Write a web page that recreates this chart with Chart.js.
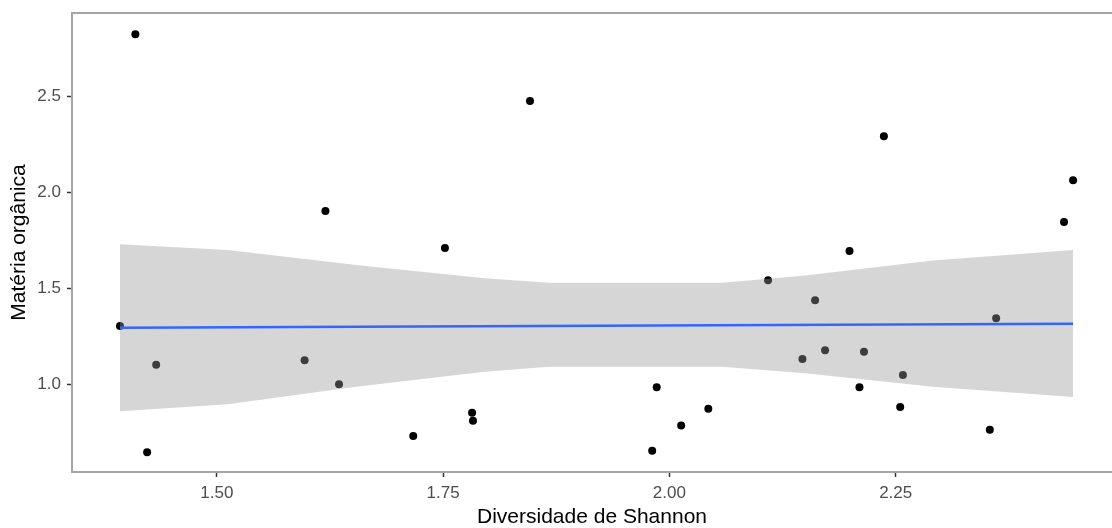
<!DOCTYPE html>
<html>
<head>
<meta charset="utf-8">
<script src="https://cdn.jsdelivr.net/npm/chart.js@4/dist/chart.umd.min.js"></script>
<style>
  body { margin: 0; background: #fff; }
  #wrap { width: 1112px; height: 528px; }
</style>
</head>
<body>
<div id="wrap"><canvas id="chart"></canvas></div>
<script>
// observed points
const diversity = [1.393, 1.410, 1.423, 1.433, 1.597, 1.620, 1.635, 1.717, 1.752, 1.782,
                   1.783, 1.846, 1.981, 1.986, 2.013, 2.043, 2.109, 2.147, 2.161, 2.172,
                   2.199, 2.210, 2.215, 2.237, 2.255, 2.258, 2.354, 2.361, 2.436, 2.446];
const organic   = [1.304, 2.826, 0.645, 1.102, 1.125, 1.904, 1.000, 0.730, 1.711, 0.851,
                   0.810, 2.478, 0.653, 0.984, 0.785, 0.872, 1.542, 1.132, 1.438, 1.177,
                   1.695, 0.984, 1.170, 2.294, 0.881, 1.048, 0.763, 1.344, 1.847, 2.064];

// fitted line (lm) and its confidence band
const fitX = [1.393, 1.920, 2.446];
const fitY = [1.295, 1.305, 1.316];
const bandX     = [1.393, 1.512, 1.654, 1.796, 1.867, 2.058, 2.150, 2.291, 2.446];
const bandUpper = [1.731, 1.700, 1.622, 1.553, 1.530, 1.530, 1.567, 1.646, 1.700];
const bandLower = [0.859, 0.895, 0.987, 1.065, 1.091, 1.091, 1.057, 0.987, 0.933];

const xTicks = [1.50, 1.75, 2.00, 2.25];
const yTicks = [1.0, 1.5, 2.0, 2.5];

const pts = (xs, ys) => xs.map((x, i) => ({ x: x, y: ys[i] }));

// grey frame line along the top of the panel
const topLine = {
    id: 'topLine',
    afterDraw(chart) {
        const c = chart.ctx, a = chart.chartArea;
        c.save();
        c.strokeStyle = '#a6a6a6';
        c.lineWidth = 2;
        c.beginPath();
        c.moveTo(a.left, a.top);
        c.lineTo(chart.width, a.top);
        c.stroke();
        c.restore();
    }
};

const noPad = s => {
    s.paddingTop = 0; s.paddingBottom = 0;
    s.paddingLeft = 0; s.paddingRight = 0;
};

const ctx = document.getElementById('chart').getContext('2d');
const chart = new Chart(ctx, {
    type: 'scatter',
    data: {
        datasets: [
            {
                label: 'fit',
                type: 'line',
                data: pts(fitX, fitY),
                borderColor: '#3366FF',
                borderWidth: 2.5,
                pointRadius: 0,
                fill: false,
                order: 0,
            },
            {
                label: 'upper',
                type: 'line',
                data: pts(bandX, bandUpper),
                borderWidth: 0,
                pointRadius: 0,
                backgroundColor: 'rgba(153,153,153,0.4)',
                fill: '+1',
                order: 1,
            },
            {
                label: 'lower',
                type: 'line',
                data: pts(bandX, bandLower),
                borderWidth: 0,
                pointRadius: 0,
                fill: false,
                order: 1,
            },
            {
                label: 'points',
                data: pts(diversity, organic),
                backgroundColor: '#000000',
                borderWidth: 0,
                pointRadius: 4,
                order: 2,
            },
        ]
    },
    options: {
        responsive: true,
        maintainAspectRatio: false,
        animation: false,
        layout: { autoPadding: false, padding: { top: 13, left: 0, right: 0, bottom: 0 } },
        plugins: {
            legend: { display: false },
            tooltip: { enabled: false },
        },
        scales: {
            x: {
                type: 'linear',
                min: 1.340,
                max: 2.489,
                afterBuildTicks: s => { s.ticks = xTicks.map(v => ({ value: v })); },
                afterFit: s => { s.height = 56; noPad(s); },
                ticks: {
                    color: '#4d4d4d',
                    font: { family: 'Liberation Sans', size: 17 },
                    padding: 6,
                    callback: v => v.toFixed(2),
                },
                grid: { drawOnChartArea: false, tickLength: 5, tickColor: '#333333', tickWidth: 1.5 },
                border: { display: true, color: '#a6a6a6', width: 2 },
                title: {
                    display: true,
                    text: 'Diversidade de Shannon',
                    color: '#000000',
                    font: { family: 'Liberation Sans', size: 21, lineHeight: 1 },
                    padding: { top: 0, bottom: 0 },
                }
            },
            y: {
                type: 'linear',
                min: 0.542,
                max: 2.937,
                afterBuildTicks: s => { s.ticks = yTicks.map(v => ({ value: v })); },
                afterFit: s => { s.width = 72; noPad(s); },
                ticks: {
                    color: '#4d4d4d',
                    font: { family: 'Liberation Sans', size: 17 },
                    padding: 6,
                    callback: v => v.toFixed(1),
                },
                grid: { drawOnChartArea: false, tickLength: 5, tickColor: '#333333', tickWidth: 1.5 },
                border: { display: true, color: '#a6a6a6', width: 2 },
                title: {
                    display: true,
                    text: 'Matéria orgânica',
                    color: '#000000',
                    font: { family: 'Liberation Sans', size: 21, lineHeight: 1.2 },
                    padding: { top: 7, bottom: 4 },
                }
            }
        }
    },
    plugins: [topLine]
});
</script>
</body>
</html>
